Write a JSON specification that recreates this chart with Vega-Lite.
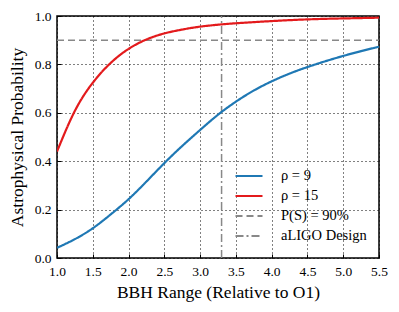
{
  "$schema": "https://vega.github.io/schema/vega-lite/v6.json",
  "width": 322,
  "height": 242,
  "autosize": {"type": "none"},
  "padding": {"left": 57, "top": 16, "right": 20, "bottom": 54},
  "background": "white",
  "config": {
    "font": "Liberation Serif",
    "view": {"stroke": "black", "strokeWidth": 1.5},
    "axis": {
      "domain": false,
      "grid": true,
      "gridColor": "black",
      "gridDash": [1, 3],
      "gridOpacity": 1,
      "gridWidth": 1,
      "tickColor": "black",
      "tickSize": -4,
      "tickWidth": 1,
      "labelFlush": false,
      "labelColor": "black",
      "labelFont": "Liberation Serif",
      "labelFontSize": 13.5,
      "titleFont": "Liberation Serif",
      "titleFontSize": 17.5,
      "titleFontWeight": "normal",
      "titleColor": "black"
    },
    "legend": {
      "labelFont": "Liberation Serif",
      "labelFontSize": 14.5,
      "labelColor": "black"
    }
  },
  "datasets": {
    "curves": [
      {"x": 1.0, "p": 0.042, "series": "ρ = 9"},
      {"x": 1.25, "p": 0.078, "series": "ρ = 9"},
      {"x": 1.5, "p": 0.123, "series": "ρ = 9"},
      {"x": 1.75, "p": 0.18, "series": "ρ = 9"},
      {"x": 2.0, "p": 0.243, "series": "ρ = 9"},
      {"x": 2.25, "p": 0.316, "series": "ρ = 9"},
      {"x": 2.5, "p": 0.392, "series": "ρ = 9"},
      {"x": 2.75, "p": 0.463, "series": "ρ = 9"},
      {"x": 3.0, "p": 0.529, "series": "ρ = 9"},
      {"x": 3.25, "p": 0.592, "series": "ρ = 9"},
      {"x": 3.5, "p": 0.646, "series": "ρ = 9"},
      {"x": 3.75, "p": 0.692, "series": "ρ = 9"},
      {"x": 4.0, "p": 0.73, "series": "ρ = 9"},
      {"x": 4.25, "p": 0.762, "series": "ρ = 9"},
      {"x": 4.5, "p": 0.789, "series": "ρ = 9"},
      {"x": 4.75, "p": 0.813, "series": "ρ = 9"},
      {"x": 5.0, "p": 0.835, "series": "ρ = 9"},
      {"x": 5.25, "p": 0.855, "series": "ρ = 9"},
      {"x": 5.5, "p": 0.873, "series": "ρ = 9"},
      {"x": 1.0, "p": 0.44, "series": "ρ = 15"},
      {"x": 1.25, "p": 0.608, "series": "ρ = 15"},
      {"x": 1.5, "p": 0.724, "series": "ρ = 15"},
      {"x": 1.75, "p": 0.806, "series": "ρ = 15"},
      {"x": 2.0, "p": 0.864, "series": "ρ = 15"},
      {"x": 2.25, "p": 0.903, "series": "ρ = 15"},
      {"x": 2.5, "p": 0.928, "series": "ρ = 15"},
      {"x": 2.75, "p": 0.944, "series": "ρ = 15"},
      {"x": 3.0, "p": 0.956, "series": "ρ = 15"},
      {"x": 3.25, "p": 0.964, "series": "ρ = 15"},
      {"x": 3.5, "p": 0.97, "series": "ρ = 15"},
      {"x": 4.0, "p": 0.979, "series": "ρ = 15"},
      {"x": 4.5, "p": 0.986, "series": "ρ = 15"},
      {"x": 5.0, "p": 0.99, "series": "ρ = 15"},
      {"x": 5.5, "p": 0.993, "series": "ρ = 15"}
    ],
    "refs": [
      {"x": 1.0, "p": 0.9, "series": "P(S) = 90%"},
      {"x": 5.5, "p": 0.9, "series": "P(S) = 90%"},
      {"x": 3.3, "p": 0.0, "series": "aLIGO Design"},
      {"x": 3.3, "p": 1.0, "series": "aLIGO Design"}
    ]
  },
  "encoding": {
    "x": {
      "field": "x",
      "type": "quantitative",
      "title": "BBH Range (Relative to O1)",
      "scale": {"domain": [1, 5.5], "nice": false, "zero": false},
      "axis": {"values": [1, 1.5, 2, 2.5, 3, 3.5, 4, 4.5, 5, 5.5], "format": ".1f", "labelPadding": 10, "titlePadding": 6}
    },
    "y": {
      "field": "p",
      "type": "quantitative",
      "title": "Astrophysical Probability",
      "scale": {"domain": [0, 1], "nice": false},
      "axis": {"values": [0, 0.2, 0.4, 0.6, 0.8, 1.0], "format": ".1f", "labelPadding": 10, "titlePadding": 8}
    },
    "color": {
      "field": "series",
      "type": "nominal",
      "scale": {
        "domain": ["ρ = 9", "ρ = 15", "P(S) = 90%", "aLIGO Design"],
        "range": ["#1f78b4", "#e31a1c", "#888888", "#888888"]
      },
      "legend": {
        "title": null,
        "orient": "none",
        "legendX": 181,
        "legendY": 149,
        "padding": 0,
        "symbolType": "M-1.35,0H1.35",
        "symbolSize": 400,
        "symbolStrokeWidth": 2,
        "labelOffset": 21,
        "rowPadding": 2
      }
    },
    "strokeDash": {
      "field": "series",
      "type": "nominal",
      "scale": {
        "domain": ["ρ = 9", "ρ = 15", "P(S) = 90%", "aLIGO Design"],
        "range": [[1, 0], [1, 0], [7, 4], [8, 3, 2, 3]]
      },
      "legend": {
        "title": null,
        "orient": "none",
        "legendX": 181,
        "legendY": 149,
        "padding": 0,
        "symbolType": "M-1.35,0H1.35",
        "symbolSize": 400,
        "labelOffset": 21,
        "rowPadding": 2
      }
    }
  },
  "layer": [
    {
      "data": {"name": "refs"},
      "mark": {"type": "line", "strokeWidth": 1.5, "clip": true}
    },
    {
      "data": {"name": "curves"},
      "mark": {"type": "line", "strokeWidth": 2.2, "interpolate": "natural", "clip": true}
    }
  ]
}
